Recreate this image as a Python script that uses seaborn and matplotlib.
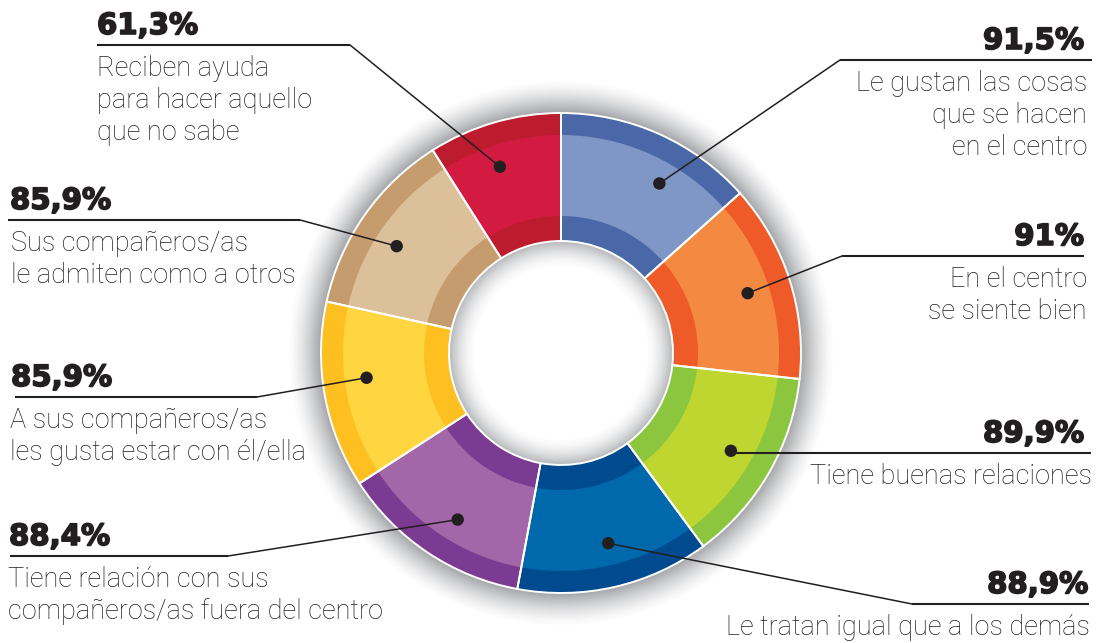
import numpy as np
import pandas as pd
import matplotlib
matplotlib.use("Agg")
import matplotlib.pyplot as plt
import matplotlib.patheffects as pe
import seaborn as sns

# ------------------------------------------------------------
# Donut: valoración del centro (porcentajes)
# ------------------------------------------------------------

# data (clockwise from 12 o'clock)
PCT_LABELS = ["91,5%", "91%", "89,9%", "88,9%", "88,4%", "85,9%", "85,9%", "61,3%"]
VALUES = [91.5, 91.0, 89.9, 88.9, 88.4, 85.9, 85.9, 61.3]
DESCRIPTIONS = [
    ["Le gustan las cosas", "que se hacen", "en el centro"],
    ["En el centro", "se siente bien"],
    ["Tiene buenas relaciones"],
    ["Le tratan igual que a los demás"],
    ["Tiene relación con sus", "compañeros/as fuera del centro"],
    ["A sus compañeros/as", "les gusta estar con él/ella"],
    ["Sus compañeros/as", "le admiten como a otros"],
    ["Reciben ayuda", "para hacer aquello", "que no sabe"],
]

# styling
LIGHT = ["#7f97c6", "#f48a42", "#bfd630", "#0069ab", "#a366a8", "#ffd540", "#dcc099", "#d31b41"]
DARK = ["#4a67a7", "#ef5a29", "#8cc63f", "#004a8f", "#7b3b93", "#fdc020", "#c59c6d", "#bd1c2e"]
TEXT_C = "#231f20"

# layout (pixels, y measured from top)
W, H = 1101, 643
CX, CY = 561, 353
R_OUT, R_IN = 240, 112
BAND_OUT, BAND_IN = 22, 25
DOT_R = 196
DOT_SHIFT = [6, 0, 0, -1, -2, 3, -2, -2]   # degrees, nudges off the mid-angle

SIDE = ["right", "right", "right", "right", "left", "left", "left", "left"]
LINE_Y = [60, 256, 453, 604, 556, 397, 220, 45]
LINE_OUTER_X = [1092, 1084, 1091, 1089, 10, 15, 8, 97]
LINE_ELBOW_X = [840, 842, None, 912, 228, 257, 300, 350]
TEXT_X = [1087, 1087, 1092, 1090, 8, 10, 11, 97]
PCT_X = [1084, 1084, 1084, 1088, 9, 11, 10, 97]


def Y(y):
    return H - y


sns.set_theme(style="white")
plt.rcParams["font.family"] = ["Roboto", "DejaVu Sans"]

fig = plt.figure(figsize=(W / 100, H / 100), dpi=100)
ax = fig.add_axes([0, 0, 1, 1])

# shadows (outer halo + inner hole)
xx, yy = np.meshgrid(np.arange(W) + 0.5, np.arange(H) + 0.5)
rr = np.hypot(xx - CX, yy - Y(CY))
alpha = np.zeros_like(rr)
t_out = np.clip((rr - R_OUT) / 34, 0, 1)
alpha = np.where(rr >= R_OUT, 0.52 * (1 - t_out) ** 1.5, alpha)
t_in = np.clip((rr - (R_IN - 28)) / 28, 0, 1)
alpha = np.where(rr <= R_IN, 0.42 * t_in ** 1.8, alpha)
shadow = np.zeros((H, W, 4))
shadow[..., 0] = 0.30
shadow[..., 1] = 0.31
shadow[..., 2] = 0.34
shadow[..., 3] = alpha
ax.imshow(shadow, extent=(0, W, 0, H), origin="lower", zorder=0,
          interpolation="bilinear")

pie_kw = dict(startangle=90, counterclock=False, center=(CX, Y(CY)))

# dark full ring
wedges, _ = ax.pie(VALUES, radius=R_OUT, colors=sns.color_palette(DARK),
                   wedgeprops=dict(width=R_OUT - R_IN, linewidth=0), **pie_kw)
for w in wedges:
    w.set_zorder(1)
# lighter middle band
wl, _ = ax.pie(VALUES, radius=R_OUT - BAND_OUT, colors=sns.color_palette(LIGHT),
               wedgeprops=dict(width=R_OUT - BAND_OUT - R_IN - BAND_IN, linewidth=0),
               **pie_kw)
for w in wl:
    w.set_zorder(2)
# white separators and rims
we, _ = ax.pie(VALUES, radius=R_OUT,
               wedgeprops=dict(width=R_OUT - R_IN, facecolor="none",
                               edgecolor="white", linewidth=1.4), **pie_kw)
for w in we:
    w.set_zorder(3)

# dot positions near each wedge's mid-angle
vals = np.array(VALUES)
cum = np.cumsum(vals) / vals.sum() * 360
mid = cum - vals / vals.sum() * 360 / 2 + np.array(DOT_SHIFT)
theta = np.deg2rad(90 - mid)
dots = pd.DataFrame({
    "x": CX + DOT_R * np.cos(theta),
    "y": Y(CY) + DOT_R * np.sin(theta),
})
sns.scatterplot(data=dots, x="x", y="y", ax=ax, s=80, color=TEXT_C,
                edgecolor="none", zorder=6, legend=False)

# labels with leader lines
for i in range(len(VALUES)):
    ly = Y(LINE_Y[i])
    dx, dy = dots["x"][i], dots["y"][i]
    elbow = LINE_ELBOW_X[i] if LINE_ELBOW_X[i] is not None else dx
    ax.plot([LINE_OUTER_X[i], elbow], [ly, ly], color=TEXT_C, lw=1.5,
            solid_capstyle="butt", zorder=5)
    ax.plot([elbow, dx], [ly, dy], color=TEXT_C, lw=1.1, zorder=5)

    ha = "right" if SIDE[i] == "right" else "left"
    ax.text(PCT_X[i], ly + 11, PCT_LABELS[i], ha=ha, va="baseline",
            fontsize=21, fontweight="bold", color=TEXT_C,
            family=["DejaVu Sans"], zorder=6,
            path_effects=[pe.withStroke(linewidth=1.2, foreground=TEXT_C)])
    for k, line in enumerate(DESCRIPTIONS[i]):
        ax.text(TEXT_X[i], ly - 31 - 32 * k, line, ha=ha, va="baseline",
                fontsize=19.5, fontweight="light", color=TEXT_C, zorder=6)

ax.set_xlim(0, W)
ax.set_ylim(0, H)
ax.set_aspect("equal")
ax.axis("off")

fig.savefig("out.png", dpi=100, facecolor="white")
